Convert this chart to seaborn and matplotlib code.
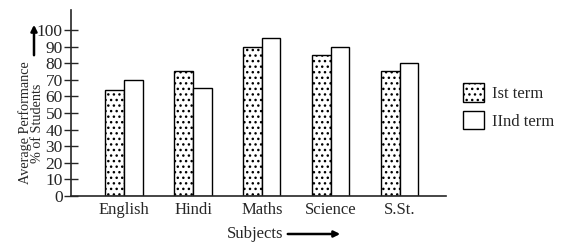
import matplotlib
matplotlib.use("Agg")
import matplotlib.pyplot as plt
import seaborn as sns
import pandas as pd

subjects = ["English", "Hindi", "Maths", "Science", "S.St."]
first_term = [64, 75, 90, 85, 75]
second_term = [70, 65, 95, 90, 80]
terms = ["Ist term", "IInd term"]

df = pd.DataFrame({
    "subject": subjects * 2,
    "score": first_term + second_term,
    "term": [terms[0]] * len(subjects) + [terms[1]] * len(subjects),
})

sns.set_style("ticks")
plt.rcParams["font.family"] = ["Liberation Serif", "DejaVu Serif"]
plt.rcParams["hatch.linewidth"] = 1.0

fig = plt.figure(figsize=(5.73, 2.45), dpi=100)
ax = fig.add_axes([0.124, 0.2, 0.654, 0.759])

sns.barplot(data=df, x="subject", y="score", hue="term", order=subjects,
            hue_order=terms, palette=["white", "white"], edgecolor="black",
            linewidth=1.0, width=0.54, ax=ax, legend=False)

n = len(subjects)
for p in ax.patches[:n]:
    p.set_hatch("...")

ax.set_xlim(-0.77, 4.67)
ax.set_ylim(0, 112)
ax.set_yticks(range(0, 101, 10))
ax.tick_params(axis="y", direction="inout", length=10, width=1, labelsize=12.5, pad=1)
ax.tick_params(axis="x", length=0, labelsize=12, pad=4)
for s in ["top", "right"]:
    ax.spines[s].set_visible(False)
ax.spines["left"].set_linewidth(1.2)
ax.spines["bottom"].set_linewidth(1.2)
ax.set_xlabel("")
ax.set_ylabel("")

fig.text(31.5 / 573, 1 - 123 / 245, "Average Performance\n% of Students", rotation=90,
         ha="center", va="center", fontsize=10.2, linespacing=0.9)
fig.add_artist(plt.matplotlib.patches.FancyArrowPatch(
    (34 / 573, 1 - 58 / 245), (34 / 573, 1 - 22 / 245), transform=fig.transFigure,
    arrowstyle="-|>", mutation_scale=9, lw=1.8, color="black"))

fig.text(0.445, 1 - 234 / 245, "Subjects", ha="center", va="center", fontsize=12)
fig.add_artist(plt.matplotlib.patches.FancyArrowPatch(
    (285 / 573, 1 - 234 / 245), (343 / 573, 1 - 234 / 245), transform=fig.transFigure,
    arrowstyle="-|>", mutation_scale=9, lw=1.8, color="black"))

handles = [plt.matplotlib.patches.Patch(facecolor="white", edgecolor="black", hatch="...", lw=1.0),
           plt.matplotlib.patches.Patch(facecolor="white", edgecolor="black", lw=1.0)]
fig.legend(handles, terms, loc="center left", bbox_to_anchor=(0.808, 0.565),
           frameon=False, fontsize=12, handlelength=1.25, handleheight=1.35,
           handletextpad=0.5, labelspacing=0.5, borderpad=0, borderaxespad=0)

fig.savefig("out.png", dpi=100)
